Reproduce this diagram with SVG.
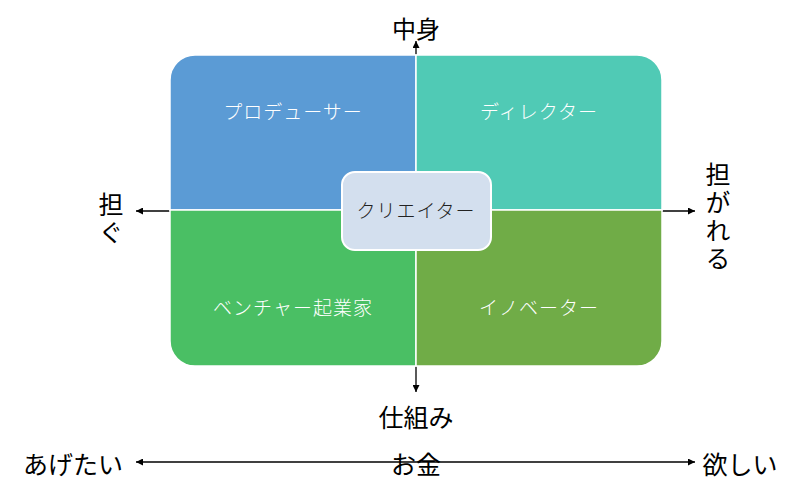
<svg xmlns="http://www.w3.org/2000/svg" width="800" height="495" viewBox="0 0 800 495">
<style>
.ax{stroke:#000;stroke-width:1.3;fill:none}
.q{stroke:#fff;stroke-width:1.5}
.ql{font-family:"Noto Sans CJK JP","Noto Sans",sans-serif;font-size:19px;fill:#fff;text-anchor:middle;dominant-baseline:central;letter-spacing:1px;font-weight:300}
.lb{font-family:"Noto Sans CJK JP","Noto Sans",sans-serif;font-size:25px;fill:#000;text-anchor:middle;dominant-baseline:central}
.vt{font-family:"Noto Sans CJK JP","Noto Sans",sans-serif;font-size:25px;fill:#000;text-anchor:middle;writing-mode:vertical-rl;letter-spacing:3px}
</style>
<defs>
<marker id="ah" viewBox="0 0 10 10" refX="10" refY="5" markerWidth="7" markerHeight="7" markerUnits="userSpaceOnUse" orient="auto-start-reverse">
<path d="M0,0 L10,5 L0,10 Z" fill="#000"/>
</marker>
</defs>
<rect width="800" height="495" fill="#fff"/>
<g id="connectors">
<line class="ax" x1="416" y1="392" x2="416" y2="41" marker-end="url(#ah)" marker-start="url(#ah)"/>
<line class="ax" x1="136" y1="211" x2="695" y2="211" marker-end="url(#ah)" marker-start="url(#ah)"/>
<line class="ax" x1="136" y1="462" x2="695" y2="462" marker-end="url(#ah)" marker-start="url(#ah)"/>
</g>
<g id="producer">
<path class="q" d="M170,80 A25,25 0 0 1 195,55 H416 V210 H170 Z" fill="#5B9BD5"/>
<text class="ql" x="293" y="110">プロデューサー</text>
</g>
<g id="director">
<path class="q" d="M416,55 H637 A25,25 0 0 1 662,80 V210 H416 Z" fill="#50CAB5"/>
<text class="ql" x="539" y="110">ディレクター</text>
</g>
<g id="venture">
<path class="q" d="M170,210 H416 V366 H195 A25,25 0 0 1 170,341 Z" fill="#4ABF64"/>
<text class="ql" x="293" y="306">ベンチャー起業家</text>
</g>
<g id="innovator">
<path class="q" d="M416,210 H662 V341 A25,25 0 0 1 637,366 H416 Z" fill="#70AC47"/>
<text class="ql" x="539" y="306">イノベーター</text>
</g>
<g id="creator">
<rect x="342" y="172" width="149" height="78" rx="13" fill="#D3DFEE" stroke="#fff" stroke-width="2"/>
<text class="ql" x="416" y="209" style="fill:#222">クリエイター</text>
</g>
<g id="labels">
<text class="lb" x="416" y="27" style="font-size:24px">中身</text>
<text class="lb" x="416" y="416">仕組み</text>
<text class="vt" x="111" y="220">担ぐ</text>
<text class="vt" x="718" y="218">担がれる</text>
<text class="lb" x="73" y="463">あげたい</text>
<text class="lb" x="416" y="463">お金</text>
<text class="lb" x="740" y="463">欲しい</text>
</g>
</svg>
